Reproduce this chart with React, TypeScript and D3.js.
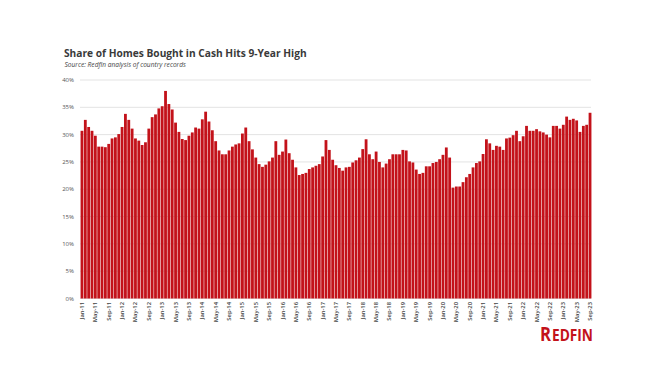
import React from "react";
import * as d3 from "d3";

const years = [11, 12, 13, 14, 15, 16, 17, 18, 19, 20, 21, 22, 23];
const monthNames = ["Jan", "Feb", "Mar", "Apr", "May", "Jun", "Jul", "Aug", "Sep", "Oct", "Nov", "Dec"];

const v2011 = [30.7, 32.7, 31.4, 30.7, 29.8, 27.8, 27.8, 27.7, 28.3, 29.3, 29.5, 30.1];
const v2012 = [31.4, 33.8, 32.7, 31.1, 29.3, 28.9, 28.1, 28.6, 31.1, 33.2, 33.7, 34.8];
const v2013 = [35.2, 38.0, 35.6, 34.6, 32.2, 30.5, 29.2, 29.0, 29.8, 30.4, 31.3, 31.1];
const v2014 = [32.8, 34.2, 32.4, 30.8, 28.8, 27.1, 26.4, 26.4, 27.1, 27.8, 28.2, 28.4];
const v2015 = [30.2, 31.3, 28.8, 27.3, 25.8, 24.6, 24.1, 24.5, 25.1, 25.8, 28.8, 26.3];
const v2016 = [26.9, 29.1, 26.6, 25.4, 24.0, 22.6, 22.8, 23.0, 23.7, 24.0, 24.3, 24.6];
const v2017 = [26.0, 29.0, 27.2, 25.4, 24.4, 23.9, 23.4, 24.0, 24.1, 24.9, 25.3, 25.8];
const v2018 = [27.35, 29.15, 26.4, 25.5, 26.9, 25.0, 24.0, 24.7, 25.5, 26.4, 26.4, 26.4];
const v2019 = [27.2, 27.1, 25.1, 24.9, 23.6, 22.8, 23.0, 24.2, 24.2, 24.8, 25.0, 25.5];
const v2020 = [26.3, 27.65, 25.8, 20.3, 20.5, 20.5, 21.3, 22.2, 22.8, 24.0, 24.8, 25.1];
const v2021 = [26.45, 29.15, 28.4, 27.2, 27.95, 27.8, 27.2, 29.3, 29.45, 29.9, 30.7, 28.8];
const v2022 = [29.7, 31.6, 30.7, 30.7, 31.0, 30.6, 30.4, 30.0, 29.5, 31.6, 31.6, 31.1];
const v2023 = [31.8, 33.3, 32.7, 32.9, 32.6, 30.5, 31.6, 31.8, 34.0];

const seriesByYear = [v2011, v2012, v2013, v2014, v2015, v2016, v2017, v2018, v2019, v2020, v2021, v2022, v2023];

const yTicks = [0, 5, 10, 15, 20, 25, 30, 35, 40];

const data: { label: string; value: number }[] = [];
seriesByYear.forEach((arr, yi) => {
  arr.forEach((v, mi) => {
    data.push({ label: `${monthNames[mi]}-${years[yi]}`, value: v });
  });
});

const W = 650;
const H = 380;
const barColor = "#c3121a";

export default function App() {
  const x = d3
    .scaleBand<number>()
    .domain(data.map((_, i) => i))
    .range([80.5, 591.5])
    .paddingInner(0.16)
    .paddingOuter(0.02);
  const y = d3.scaleLinear().domain([0, 40]).range([298.5, 80]);
  const font = "'Open Sans', 'DejaVu Sans', sans-serif";

  return (
    <svg
      width={W}
      height={H}
      style={{ position: "absolute", left: 0, top: 0, background: "#fff" }}
    >
      <text x={64} y={57} fontFamily={font} fontWeight={700} fontSize={10.2} fill="#3a3a3a">
        Share of Homes Bought in Cash Hits 9-Year High
      </text>
      <text x={64.5} y={67} fontFamily={font} fontStyle="italic" fontSize={6.6} fill="#444">
        Source: Redfin analysis of country records
      </text>
      {yTicks.map((t) => (
        <g key={t}>
          <line x1={80} x2={591} y1={y(t)} y2={y(t)} stroke="#e3e3e3" strokeWidth={1} />
          <text
            x={74}
            y={y(t)}
            dy="0.35em"
            textAnchor="end"
            fontFamily={font}
            fontSize={6}
            fill="#555"
          >
            {t}%
          </text>
        </g>
      ))}
      {data.map((d, i) => (
        <rect
          key={i}
          x={x(i)}
          y={y(d.value)}
          width={x.bandwidth()}
          height={y(0) - y(d.value)}
          fill={barColor}
        />
      ))}
      {data.map((d, i) =>
        i % 4 === 0 ? (
          <text
            key={"l" + i}
            transform={`translate(${(x(i) as number) + x.bandwidth() / 2 + 2},302) rotate(-90)`}
            textAnchor="end"
            fontFamily={font}
            fontWeight={600}
            fontSize={5.8}
            fill="#444"
          >
            {d.label}
          </text>
        ) : null
      )}
      <text
        x={540}
        y={341}
        fontFamily={font}
        fontWeight={700}
        fontSize={19}
        fill={barColor}
        textLength={11}
        lengthAdjust="spacingAndGlyphs"
      >
        R
      </text>
      <text
        x={552}
        y={341}
        fontFamily={font}
        fontWeight={700}
        fontSize={16}
        fill={barColor}
        textLength={41}
        lengthAdjust="spacingAndGlyphs"
      >
        EDFIN
      </text>
    </svg>
  );
}
